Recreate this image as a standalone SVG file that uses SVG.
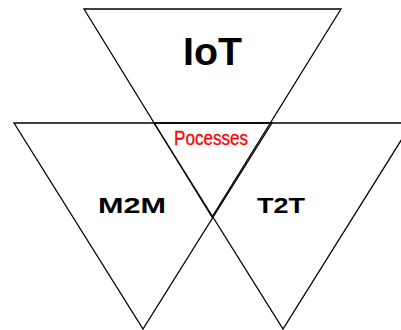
<svg xmlns="http://www.w3.org/2000/svg" width="401" height="330" viewBox="0 0 401 330">
<style>
.tri{fill:none;stroke:#000;stroke-width:1.3;stroke-linejoin:miter}
.lbl{font-family:"Liberation Sans",Arial,sans-serif;font-weight:bold;fill:#000;text-anchor:middle}
.red{font-family:"Liberation Sans",Arial,sans-serif;fill:#ff0000;text-anchor:middle}
</style>
<rect width="401" height="330" fill="#fff"/>
<g id="connectors"></g>
<g id="m2m">
<polygon class="tri" points="14,123 272,123 143,329"/>
<text class="lbl" x="132" y="213" font-size="22.5" textLength="68" lengthAdjust="spacingAndGlyphs">M2M</text>
</g>
<g id="t2t">
<polygon class="tri" points="154,123 412,123 283,329"/>
<text class="lbl" x="281" y="213" font-size="22.5" textLength="48" lengthAdjust="spacingAndGlyphs">T2T</text>
</g>
<g id="iot">
<polygon class="tri" points="84,9 341,9 212,217"/>
<text class="lbl" x="212.5" y="65" font-size="39" textLength="59" lengthAdjust="spacingAndGlyphs">IoT</text>
</g>
<g id="processes">
<text class="red" x="211" y="145" font-size="19.5" stroke="#ff0000" stroke-width="0.3" textLength="74" lengthAdjust="spacingAndGlyphs">Pocesses</text>
</g>
</svg>
